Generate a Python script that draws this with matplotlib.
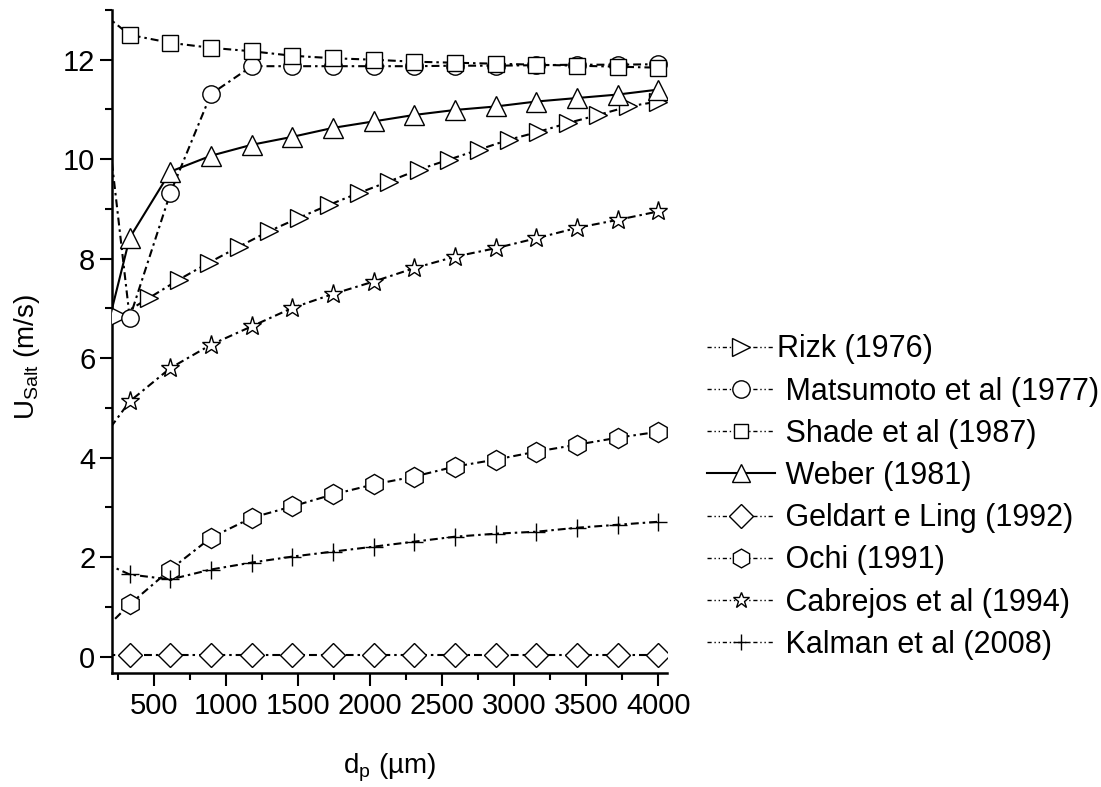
import matplotlib
matplotlib.use("Agg")
import matplotlib.pyplot as plt
from matplotlib.lines import Line2D
from matplotlib.ticker import MultipleLocator

plt.rcParams["font.family"] = ["Liberation Sans", "DejaVu Sans"]
plt.rcParams["mathtext.fontset"] = "custom"
plt.rcParams["mathtext.rm"] = "Liberation Sans"

# diametros de particula (um)
d_p = [50, 332, 614, 896, 1179, 1461, 1743, 2025, 2307, 2589, 2871, 3154, 3436, 3718, 4000]
d_rizk = [50, 258, 466, 674, 882, 1089, 1297, 1505, 1713, 1921, 2129, 2337, 2545,
          2753, 2961, 3168, 3376, 3584, 3792, 4000]

# velocidades de saltacion (m/s)
rizk = [6.5, 6.84, 7.21, 7.58, 7.92, 8.24, 8.55, 8.82, 9.08, 9.32, 9.55, 9.79, 9.99,
        10.19, 10.39, 10.55, 10.73, 10.89, 11.06, 11.16]
matsumoto = [13.95, 6.81, 9.32, 11.31, 11.87, 11.87, 11.87, 11.87, 11.87, 11.88, 11.88,
             11.89, 11.90, 11.90, 11.91]
shade = [13.15, 12.50, 12.34, 12.24, 12.17, 12.08, 12.03, 12.00, 11.96, 11.94, 11.92,
         11.90, 11.88, 11.86, 11.84]
weber = [5.14, 8.42, 9.75, 10.07, 10.29, 10.45, 10.63, 10.76, 10.89, 10.99, 11.06,
         11.16, 11.23, 11.30, 11.40]
geldart = [0.03, 0.03, 0.03, 0.03, 0.03, 0.03, 0.03, 0.03, 0.03, 0.03, 0.03, 0.03,
           0.03, 0.03, 0.03]
ochi = [0.24, 1.05, 1.75, 2.39, 2.79, 3.02, 3.26, 3.46, 3.62, 3.82, 3.96, 4.12, 4.26,
        4.40, 4.52]
cabrejos = [4.02, 5.13, 5.80, 6.27, 6.64, 7.01, 7.29, 7.54, 7.81, 8.04, 8.21, 8.41,
            8.62, 8.78, 8.95]
kalman = [2.02, 1.65, 1.55, 1.75, 1.89, 2.01, 2.11, 2.21, 2.31, 2.41, 2.47, 2.51,
          2.59, 2.65, 2.71]

labels = ["Rizk (1976)", " Matsumoto et al (1977)", " Shade et al (1987)", " Weber (1981)",
          " Geldart e Ling (1992)", " Ochi (1991)", " Cabrejos et al (1994)",
          " Kalman et al (2008)"]

DD = (0, (3.8, 1.9, 1.2, 1.9))   # raya-punto de las curvas
series = [  # (x, y, marcador, tamano en curva, tamano en leyenda, estilo)
    (d_rizk, rizk, ">", 13, 13, DD),
    (d_p, matsumoto, "o", 12.5, 12.5, DD),
    (d_p, shade, "s", 12, 9.5, DD),
    (d_p, weber, "^", 14.5, 13, "-"),
    (d_p, geldart, "D", 12, 12.5, DD),
    (d_p, ochi, "h", 14.5, 13.5, DD),
    (d_p, cabrejos, "*", 14, 12, DD),
    (d_p, kalman, "+", 13, 12, DD),
]
order = [0, 4, 5, 7, 6, 3, 1, 2]  # cuadrados encima de los circulos

fig = plt.figure(figsize=(11.01, 7.87), dpi=100)
ax = fig.add_axes([0.1017, 0.1449, 0.5041, 0.8424])

for i in order:
    x, y, m, ms, _, ls = series[i]
    ax.plot(x, y, color="black", lw=1.5, linestyle=ls, marker=m, ms=ms,
            mfc="white", mec="black", mew=1.0, zorder=3 + i * 0.1)

ax.set_xlim(209, 4060)
ax.set_ylim(-0.33, 13)
ax.xaxis.set_major_locator(MultipleLocator(500))
ax.xaxis.set_minor_locator(MultipleLocator(250))
ax.yaxis.set_major_locator(MultipleLocator(2))
ax.yaxis.set_minor_locator(MultipleLocator(1))
ax.set_xticks([500, 1000, 1500, 2000, 2500, 3000, 3500, 4000])
for s in ["top", "right"]:
    ax.spines[s].set_visible(False)
for s in ["left", "bottom"]:
    ax.spines[s].set_linewidth(1.8)
ax.tick_params(which="major", direction="out", length=9, width=1.5, labelsize=21)
ax.tick_params(which="minor", direction="out", length=5, width=1.5)
ax.tick_params(axis="x", which="major", pad=5)
ax.tick_params(axis="y", which="major", pad=3)

ax.set_ylabel(r"U$_{\rm Salt}$ (m/s)", fontsize=20)
ax.yaxis.set_label_coords(-0.126, 0.477)
ax.set_xlabel(r"d$_{\rm p}$ (µm)", fontsize=20)
ax.xaxis.set_label_coords(0.5, -0.118)

handles = []
for x, y, m, ms, lms, ls in series:
    hls = "-" if ls == "-" else (0, (3, 2, 1, 2, 1, 2))
    hw = 1.5 if ls == "-" else 1.0
    handles.append(Line2D([], [], color="black", lw=hw, linestyle=hls, marker=m,
                          ms=lms, mfc="white", mec="black", mew=1.0))
fig.legend(handles, labels, loc="center left", bbox_to_anchor=(0.6421, 0.3683),
           frameon=False, fontsize=22, handlelength=2.23, handletextpad=0.05,
           labelspacing=0.4, borderpad=0, borderaxespad=0)

fig.savefig("out.png", dpi=100)
